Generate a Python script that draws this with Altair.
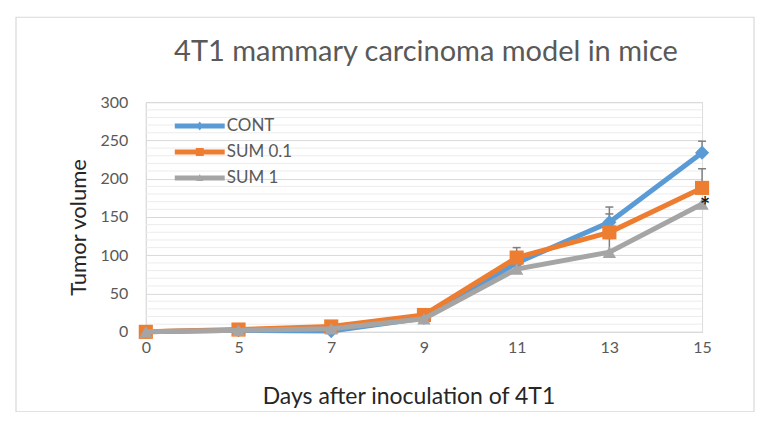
import altair as alt
import pandas as pd

days = ["0", "5", "7", "9", "11", "13", "15"]
series_names = ["CONT", "SUM 0.1", "SUM 1"]
cont = [0, 2, 1, 18, 90, 143, 234]
sum01 = [0, 3, 7, 22, 97, 130, 188]
sum1 = [0, 2, 4, 17, 82, 104, 167]
series_values = [cont, sum01, sum1]
colors = ["#5B9BD5", "#ED7D31", "#A5A5A5"]
shapes = ["diamond", "square", "triangle-up"]
legend_paths = [
    "M-2.5,-0.25H2.5V0.25H-2.5Z M0,-0.45L0.35,0L0,0.45L-0.35,0Z",
    "M-2.5,-0.25H2.5V0.25H-2.5Z M-0.4,-0.4H0.4V0.4H-0.4Z",
    "M-2.5,-0.25H2.5V0.25H-2.5Z M0,-0.4L0.35,0.3H-0.35Z",
]

err_series = ["CONT", "CONT", "SUM 0.1", "SUM 0.1", "SUM 0.1", "SUM 1"]
err_days = ["13", "15", "11", "13", "15", "13"]
err_upper = [163, 249, 110, 154, 213, 122]

y_major = [0, 50, 100, 150, 200, 250, 300]
y_minor = [10, 20, 30, 40, 60, 70, 80, 90, 110, 120, 130, 140, 160, 170, 180, 190,
           210, 220, 230, 240, 260, 270, 280, 290]

star_series = "SUM 1"
star_day = "15"
star_text = "*"

FONT = "Lato"
W, H = 557, 230

rows = []
for name, vals in zip(series_names, series_values):
    for d, v in zip(days, vals):
        rows.append({"day": d, "series": name, "value": v})
df = pd.DataFrame(rows)

lookup = {(r["series"], r["day"]): r["value"] for r in rows}
err_df = pd.DataFrame({
    "series": err_series,
    "day": err_days,
    "upper": err_upper,
    "value": [lookup[(s, d)] for s, d in zip(err_series, err_days)],
})

x_axis = alt.Axis(title="Days after inoculation of 4T1", labelAngle=0,
                  labelFontSize=16, labelColor="#595959", labelFont=FONT,
                  labelPadding=8, ticks=False, tickSize=0,
                  domainColor="#d9d9d9", domainWidth=1,
                  titleFont=FONT, titleFontSize=23, titleFontWeight="normal",
                  titleColor="#262626", titlePadding=30, titleX=263, grid=False)
x_scale = alt.Scale(type="point", padding=0, domain=days)
y_scale = alt.Scale(domain=[0, 300], nice=False)
y_axis = alt.Axis(title="Tumor volume", values=y_major, labelFontSize=16,
                  labelColor="#595959", labelFont=FONT, labelPadding=18,
                  labelOverlap=False,
                  ticks=False, tickSize=0, domain=True, domainColor="#d9d9d9",
                  gridColor="#d9d9d9", gridWidth=1,
                  titleFont=FONT, titleFontSize=22, titleFontWeight="normal",
                  titleColor="#262626", titlePadding=10, titleY=125)


def xe(field="day:N"):
    return alt.X(field, sort=days, scale=x_scale, axis=x_axis)


def ye(field):
    return alt.Y(field, scale=y_scale, axis=y_axis)


base = alt.Chart(df)

border = alt.Chart(pd.DataFrame({"a": [0]})).mark_rect(
    fill="transparent", stroke="#d9d9d9", strokeWidth=1.2
).encode(x=alt.value(-130), x2=alt.value(609), y=alt.value(-85), y2=alt.value(310))

minor = alt.Chart(pd.DataFrame({"v": y_minor})).mark_rule(
    color="#ececec", strokeWidth=1
).encode(y=ye("v:Q"))

stems = alt.Chart(err_df).mark_rule(color="#7f7f7f", strokeWidth=1.5).encode(
    x=xe(), y=ye("value:Q"), y2="upper:Q")
caps = alt.Chart(err_df).mark_tick(color="#7f7f7f", thickness=1.5, size=8,
                                   opacity=1).encode(
    x=xe(), y=ye("upper:Q"))

layers = [border, minor, stems, caps]
for name, col, shp in zip(series_names, colors, shapes):
    sub = base.transform_filter(alt.datum.series == name)
    layers.append(sub.mark_line(color=col, strokeWidth=5).encode(
        x=xe(), y=ye("value:Q")))
    layers.append(sub.mark_point(color=col, filled=True, opacity=1, shape=shp,
                                 size=200 if shp != "triangle-up" else 180).encode(
        x=xe(), y=ye("value:Q")))

legend_layer = base.mark_point(filled=True, size=0, opacity=1).encode(
    x=xe(), y=ye("value:Q"),
    color=alt.Color("series:N", sort=series_names,
                    scale=alt.Scale(domain=series_names, range=colors),
                    legend=alt.Legend(title=None, orient="none", legendX=44, legendY=14,
                                      symbolSize=400, symbolOpacity=1,
                                      symbolStrokeWidth=0, labelOffset=17,
                                      labelFont=FONT, labelFontSize=17,
                                      labelColor="#595959", rowPadding=8, padding=0)),
    shape=alt.Shape("series:N", sort=series_names,
                    scale=alt.Scale(domain=series_names, range=legend_paths)),
)
layers.append(legend_layer)

star_df = pd.DataFrame({"day": [star_day], "value": [lookup[(star_series, star_day)]],
                        "t": [star_text]})
star = alt.Chart(star_df).mark_text(fontSize=24, font=FONT, color="#1a1a1a",
                                    fontWeight="bold",
                                    align="left", baseline="middle", dx=-2, dy=4).encode(
    x=xe(), y=ye("value:Q"), text="t:N")
layers.append(star)

chart = alt.layer(*layers).properties(
    width=W, height=H,
    title=alt.TitleParams("4T1 mammary carcinoma model in mice", font=FONT, fontSize=29,
                          fontWeight="normal", color="#595959", anchor="middle",
                          frame="group", offset=-50, dx=2),
    padding={"left": 138, "top": 94, "right": 60, "bottom": 80},
    autosize=alt.AutoSizeParams(type="none"),
).configure_view(stroke=None).configure(background="white").configure_point(opacity=1)

chart.save("out.html", embed_options={"renderer": "svg", "actions": False})
